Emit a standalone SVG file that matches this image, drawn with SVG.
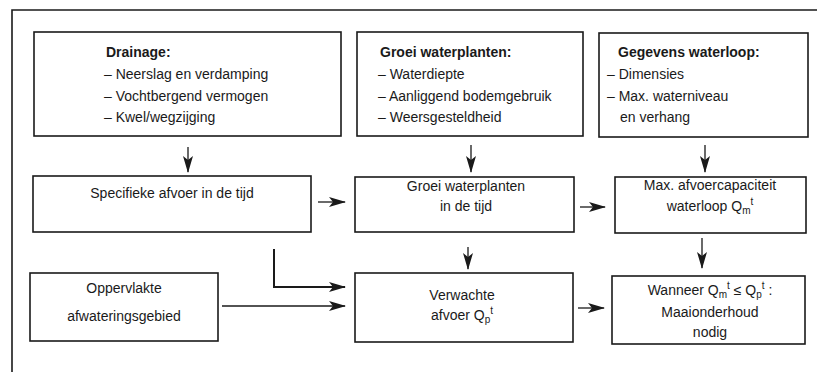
<svg xmlns="http://www.w3.org/2000/svg" width="817" height="375" viewBox="0 0 817 375">
<defs>
<style>
.box{fill:#fff;stroke:#1a1a1a;stroke-width:1.6}
.t{font-family:"Liberation Sans",Arial,sans-serif;font-size:14px;fill:#1a1a1a}
.c{text-anchor:middle}
.b{font-weight:bold}
.s{font-size:10px}
.ln{fill:none;stroke:#1a1a1a;stroke-width:1.3}
.lt{fill:none;stroke:#1a1a1a;stroke-width:2}
</style>
<marker id="ah" viewBox="0 0 17 10" refX="16" refY="5" markerWidth="17" markerHeight="10" markerUnits="userSpaceOnUse" orient="auto">
<path d="M0,0 L17,5 L0,10 L4,5 z" fill="#1a1a1a"/>
</marker>
</defs>
<rect width="817" height="375" fill="#fff"/>
<g id="frame">
<path d="M12,372 L12,10 L817,10" fill="none" stroke="#1a1a1a" stroke-width="1.6"/>
</g>
<g id="drainage">
<rect class="box" x="34" y="32" width="307" height="104"/>
<text class="t b" x="106" y="57">Drainage:</text>
<text class="t" x="104" y="79">– Neerslag en verdamping</text>
<text class="t" x="104" y="101">– Vochtbergend vermogen</text>
<text class="t" x="104" y="122">– Kwel/wegzijging</text>
</g>
<g id="groei">
<rect class="box" x="357" y="32" width="226" height="104"/>
<text class="t b" x="380" y="57">Groei waterplanten:</text>
<text class="t" x="378" y="79">– Waterdiepte</text>
<text class="t" x="378" y="101">– Aanliggend bodemgebruik</text>
<text class="t" x="378" y="122">– Weersgesteldheid</text>
</g>
<g id="gegevens">
<rect class="box" x="599" y="33" width="209" height="104"/>
<text class="t b" x="618" y="57">Gegevens waterloop:</text>
<text class="t" x="607" y="79">– Dimensies</text>
<text class="t" x="607" y="101">– Max. waterniveau</text>
<text class="t" x="620" y="122">en verhang</text>
</g>
<g id="specifieke">
<rect class="box" x="33" y="176" width="278" height="56"/>
<text class="t c" x="172" y="198">Specifieke afvoer in de tijd</text>
</g>
<g id="groei-tijd">
<rect class="box" x="355" y="177" width="219" height="55"/>
<text class="t c" x="466" y="191">Groei waterplanten</text>
<text class="t c" x="466" y="211">in de tijd</text>
</g>
<g id="max">
<rect class="box" x="615" y="177" width="191" height="56"/>
<text class="t c" x="710" y="190">Max. afvoercapaciteit</text>
<text class="t c" x="710" y="211">waterloop Q<tspan class="s" dy="3">m</tspan><tspan class="s" dy="-9">t</tspan></text>
</g>
<g id="oppervlakte">
<rect class="box" x="30" y="273" width="188" height="68"/>
<text class="t c" x="124" y="293">Oppervlakte</text>
<text class="t c" x="124" y="321">afwateringsgebied</text>
</g>
<g id="verwachte">
<rect class="box" x="355" y="273" width="218" height="69"/>
<text class="t c" x="462" y="300">Verwachte</text>
<text class="t c" x="462" y="320">afvoer Q<tspan class="s" dy="3">p</tspan><tspan class="s" dy="-9">t</tspan></text>
</g>
<g id="wanneer">
<rect class="box" x="612" y="276" width="193" height="68"/>
<text class="t c" x="710" y="295">Wanneer Q<tspan class="s" dy="3">m</tspan><tspan class="s" dy="-9">t</tspan><tspan dy="6"> ≤ Q</tspan><tspan class="s" dy="3">p</tspan><tspan class="s" dy="-9">t</tspan><tspan dy="6"> :</tspan></text>
<text class="t c" x="710" y="317">Maaionderhoud</text>
<text class="t c" x="710" y="337">nodig</text>
</g>
<g id="connectors">
<line class="ln" x1="188" y1="147" x2="188" y2="172" marker-end="url(#ah)"/>
<line class="ln" x1="471" y1="145" x2="471" y2="172" marker-end="url(#ah)"/>
<line class="ln" x1="705" y1="145" x2="705" y2="172" marker-end="url(#ah)"/>
<line class="ln" x1="318" y1="202" x2="345" y2="202" marker-end="url(#ah)"/>
<line class="ln" x1="580" y1="207" x2="605" y2="207" marker-end="url(#ah)"/>
<line class="ln" x1="468" y1="247" x2="468" y2="269" marker-end="url(#ah)"/>
<line class="ln" x1="702" y1="238" x2="702" y2="268" marker-end="url(#ah)"/>
<path class="lt" d="M274,249 L274,287 L345,287" marker-end="url(#ah)"/>
<line class="ln" x1="222" y1="306" x2="345" y2="306" marker-end="url(#ah)"/>
<line class="ln" x1="578" y1="308" x2="604" y2="308" marker-end="url(#ah)"/>
</g>
</svg>
